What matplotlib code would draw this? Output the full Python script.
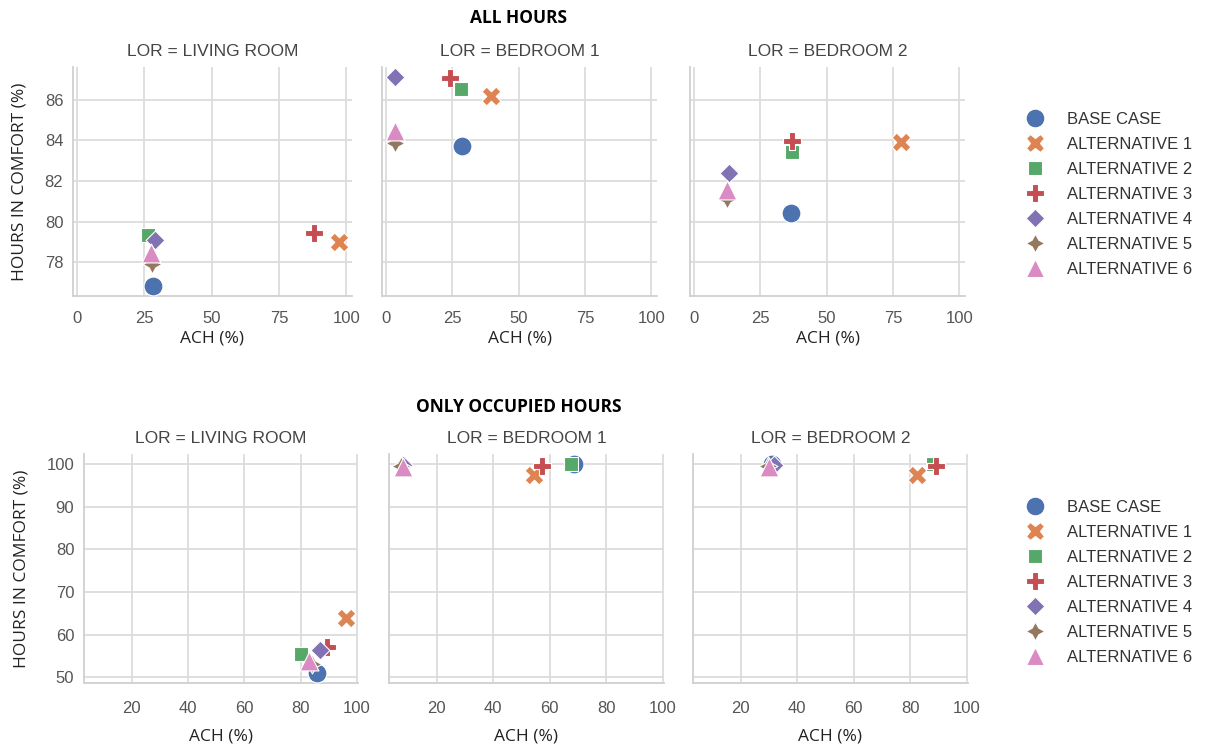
import matplotlib
matplotlib.use("Agg")
import matplotlib.pyplot as plt
from matplotlib.lines import Line2D

# categorias
rooms = ["LIVING ROOM", "BEDROOM 1", "BEDROOM 2"]
scenarios = ["BASE CASE", "ALTERNATIVE 1", "ALTERNATIVE 2", "ALTERNATIVE 3",
             "ALTERNATIVE 4", "ALTERNATIVE 5", "ALTERNATIVE 6"]

# ALL HOURS (ACH %, horas en confort %), un valor por escenario
all_ach_living = [28.1, 97.4, 26.5, 88.1, 28.9, 27.7, 27.4]
all_hic_living = [76.85, 79.0, 79.35, 79.45, 79.1, 77.9, 78.45]
all_ach_bed1 = [28.7, 39.4, 28.3, 24.1, 3.3, 3.2, 3.3]
all_hic_bed1 = [83.73, 86.18, 86.52, 87.05, 87.1, 83.85, 84.45]
all_ach_bed2 = [36.7, 78.1, 37.0, 37.0, 13.2, 12.6, 12.6]
all_hic_bed2 = [80.4, 83.9, 83.45, 83.97, 82.37, 81.1, 81.55]

# ONLY OCCUPIED HOURS
occ_ach_living = [85.7, 96.0, 80.3, 89.5, 86.9, 84.0, 82.9]
occ_hic_living = [51.1, 63.8, 55.5, 57.2, 56.3, 53.0, 53.7]
occ_ach_bed1 = [68.6, 54.4, 67.4, 57.4, 8.0, 7.5, 8.2]
occ_hic_bed1 = [99.9, 97.4, 99.9, 99.6, 99.7, 99.5, 99.4]
occ_ach_bed2 = [31.0, 82.5, 88.0, 89.0, 31.9, 29.5, 30.1]
occ_hic_bed2 = [99.9, 97.4, 99.9, 99.6, 99.8, 99.5, 99.4]

# estilo tipo seaborn "deep"
colors = ['#4C72B0', '#DD8452', '#55A868', '#C44E52', '#8172B3', '#937860', '#DA8BC3']
markers = ['o', 'X', (4, 0, 45), 'P', (4, 0, 0), (4, 1, 0), '^']

plt.rcParams['font.family'] = ['Liberation Sans', 'DejaVu Sans']
W, H = 1206, 747
fig = plt.figure(figsize=(W / 100, H / 100), dpi=100)


def px_axes(x0, x1, ytop, ybot, sharey=None, sharex=None):
    return fig.add_axes([x0 / W, 1 - ybot / H, (x1 - x0) / W, (ybot - ytop) / H],
                        sharey=sharey, sharex=sharex)


def dibujar_fila(lefts, ytop, ybot, datos, xpad, xlabpad, ylabpad):
    axes = []
    for i, (x0, x1) in enumerate(lefts):
        ax = px_axes(x0, x1, ytop, ybot,
                     sharey=axes[0] if axes else None,
                     sharex=axes[0] if axes else None)
        ach, hic = datos[i]
        for j in range(len(scenarios)):
            ax.scatter(ach[j], hic[j], s=185, marker=markers[j], color=colors[j],
                       edgecolor='white', linewidth=0.8, zorder=3, label=scenarios[j])
        ax.set_facecolor('white')
        ax.grid(True, color='#dcdcdc', linewidth=1.3, zorder=0)
        ax.set_axisbelow(True)
        for side in ['top', 'right']:
            ax.spines[side].set_visible(False)
        for side in ['left', 'bottom']:
            ax.spines[side].set_color('#d0d0d0')
            ax.spines[side].set_linewidth(1.3)
        ax.tick_params(length=0, labelsize=12, labelcolor='#555555', pad=7)
        ax.tick_params(axis='x', pad=xpad)
        ax.set_title('LOR = ' + rooms[i], fontsize=12.5, color='#444444', pad=8)
        ax.set_xlabel('ACH (%)', fontsize=12.5, family=['Open Sans', 'DejaVu Sans'],
                      color='#222222', labelpad=xlabpad)
        if i > 0:
            ax.tick_params(labelleft=False)
        axes.append(ax)
    axes[0].set_ylabel('HOURS IN COMFORT (%)', fontsize=12.5,
                       family=['Open Sans', 'DejaVu Sans'], color='#222222',
                       labelpad=ylabpad)
    return axes


top = dibujar_fila([(73, 352), (382, 657), (690, 965)], 67, 296,
                   [(all_ach_living, all_hic_living), (all_ach_bed1, all_hic_bed1),
                    (all_ach_bed2, all_hic_bed2)], xpad=11, xlabpad=3, ylabpad=12)
bot = dibujar_fila([(84, 358), (389, 664), (693, 968)], 454, 683,
                   [(occ_ach_living, occ_hic_living), (occ_ach_bed1, occ_hic_bed1),
                    (occ_ach_bed2, occ_hic_bed2)], xpad=13, xlabpad=9, ylabpad=12)

top[0].set_xticks([0, 25, 50, 75, 100])
bot[0].set_xticks([20, 40, 60, 80, 100])

fig.text(519 / W, 1 - 18 / H, 'ALL HOURS', ha='center', va='center',
         fontsize=12.5, fontweight='bold', family=['Open Sans', 'DejaVu Sans'])
fig.text(519 / W, 1 - 407 / H, 'ONLY OCCUPIED HOURS', ha='center', va='center',
         fontsize=12.5, fontweight='bold', family=['Open Sans', 'DejaVu Sans'])

# leyendas
handles = [Line2D([], [], linestyle='none', marker=markers[j], color=colors[j],
                  markeredgecolor='white', markeredgewidth=0.8, markersize=13.5)
           for j in range(len(scenarios))]
for yc in [194.5, 582.5]:
    leg = fig.legend(handles, scenarios, loc='center left',
                     bbox_to_anchor=(1010 / W, 1 - yc / H), frameon=False,
                     fontsize=12, labelspacing=0.6, handletextpad=1.3,
                     handlelength=1.2)
    for t in leg.get_texts():
        t.set_color('#333333')

fig.savefig('out.png', dpi=100, facecolor='white')
